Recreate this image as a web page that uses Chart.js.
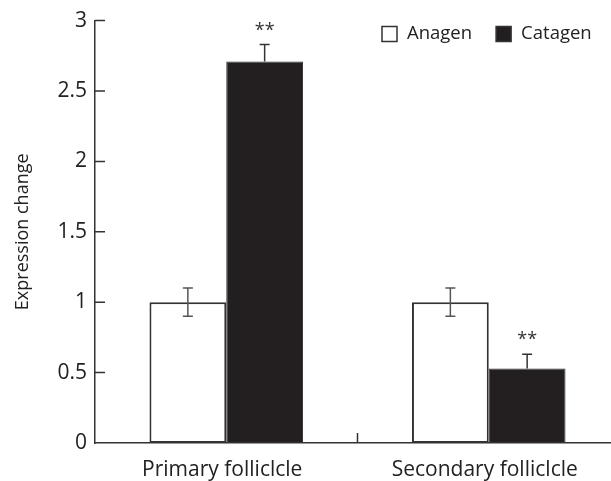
<!DOCTYPE html>
<html>
<head>
<meta charset="utf-8">
<script src="https://cdn.jsdelivr.net/npm/chart.js@4"></script>
<style>
  html, body { margin: 0; padding: 0; overflow: hidden; background: #fff; }
  #wrap { width: 620px; height: 481px; }
</style>
</head>
<body>
<div id="wrap"><canvas id="myChart1"></canvas></div>
<script>
const categories = ["Primary folliclcle", "Secondary folliclcle"];
const anagen = [1.0, 1.0];
const catagen = [2.71, 0.53];
const anagenErr = [0.1, 0.1];
const catagenErr = [0.12, 0.1];
const catagenSig = ["**", "**"];
const yTicks = [0, 0.5, 1, 1.5, 2, 2.5, 3];

const FONT = "'Open Sans', sans-serif";
const INK = "#333";

// error bars, asterisks, inward ticks and the legend
const extras = {
  id: "extras",
  afterDatasetsDraw(chart) {
    const { ctx, scales: { x, y }, chartArea } = chart;
    ctx.save();
    const errs = [anagenErr, catagenErr];
    chart.data.datasets.forEach((ds, di) => {
      const meta = chart.getDatasetMeta(di);
      meta.data.forEach((bar, i) => {
        const v = ds.data[i];
        const e = errs[di][i];
        const top = y.getPixelForValue(v + e);
        const bot = y.getPixelForValue(v - e);
        ctx.strokeStyle = di === 0 ? "#555" : "#333";
        ctx.lineWidth = 1.5;
        ctx.beginPath();
        ctx.moveTo(bar.x, top);
        ctx.lineTo(bar.x, di === 0 ? bot : bar.y);
        ctx.moveTo(bar.x - 5, top);
        ctx.lineTo(bar.x + 5, top);
        if (di === 0) {
          ctx.moveTo(bar.x - 5, bot);
          ctx.lineTo(bar.x + 5, bot);
        }
        ctx.stroke();
        if (di === 1 && catagenSig[i]) {
          ctx.fillStyle = INK;
          ctx.font = "18px " + FONT;
          ctx.textAlign = "center";
          ctx.textBaseline = "middle";
          ctx.fillText(catagenSig[i], bar.x, top - 14);
        }
      });
    });

    // inward y ticks
    ctx.strokeStyle = INK;
    ctx.lineWidth = 1.5;
    ctx.beginPath();
    yTicks.slice(1).forEach(t => {
      const py = y.getPixelForValue(t);
      ctx.moveTo(chartArea.left, py);
      ctx.lineTo(chartArea.left + 10, py);
    });
    // tick between the groups
    const mid = (x.getPixelForValue(0) + x.getPixelForValue(1)) / 2;
    ctx.moveTo(mid, chartArea.bottom);
    ctx.lineTo(mid, chartArea.bottom - 10);
    ctx.stroke();

    // legend
    ctx.font = "18.5px " + FONT;
    ctx.textAlign = "left";
    ctx.textBaseline = "middle";
    const ly = 34;
    let lx = 382;
    chart.data.datasets.forEach((ds, di) => {
      ctx.fillStyle = ds.backgroundColor;
      ctx.fillRect(lx, ly - 7.5, 15, 15);
      ctx.strokeStyle = INK;
      ctx.lineWidth = 1.5;
      ctx.strokeRect(lx, ly - 7.5, 15, 15);
      ctx.fillStyle = "#222";
      ctx.fillText(ds.label, lx + 25, ly);
      lx += 25 + ctx.measureText(ds.label).width + 24;
    });
    ctx.restore();
  }
};

const ctx = document.getElementById("myChart1");

new Chart(ctx, {
  type: "bar",
  data: {
    labels: categories,
    datasets: [
      {
        label: "Anagen",
        data: anagen,
        backgroundColor: "#ffffff",
        borderColor: INK,
        borderWidth: 2,
        borderSkipped: false,
      },
      {
        label: "Catagen",
        data: catagen,
        backgroundColor: "#231f20",
        borderColor: "#333",
        borderWidth: 1,
        borderSkipped: false,
      },
    ],
  },
  options: {
    responsive: true,
    maintainAspectRatio: false,
    animation: false,
    layout: { padding: { top: 20, left: 0, right: 0, bottom: 0 } },
    categoryPercentage: 0.585,
    barPercentage: 1,
    plugins: {
      legend: { display: false },
      tooltip: { enabled: false },
    },
    scales: {
      x: {
        grid: { display: false, drawTicks: false },
        border: { color: INK, width: 1.5 },
        ticks: {
          color: "#222",
          font: { family: FONT, size: 21 },
          padding: 14,
          maxRotation: 0,
          labelOffset: -4,
        },
        afterFit(scale) { scale.height = 38; },
      },
      y: {
        min: 0,
        max: 3,
        afterBuildTicks(scale) { scale.ticks = yTicks.map(v => ({ value: v })); },
        grid: { display: false, drawTicks: false },
        border: { color: INK, width: 1.5 },
        ticks: {
          color: "#222",
          font: { family: FONT, size: 21 },
          padding: 8,
          callback: v => String(v),
        },
        title: {
          display: true,
          text: "Expression change",
          color: "#222",
          font: { family: FONT, size: 18 },
          padding: { top: 12, bottom: 0 },
        },
        afterFit(scale) { scale.width = 95; },
      },
    },
  },
  plugins: [extras],
});
</script>
</body>
</html>
